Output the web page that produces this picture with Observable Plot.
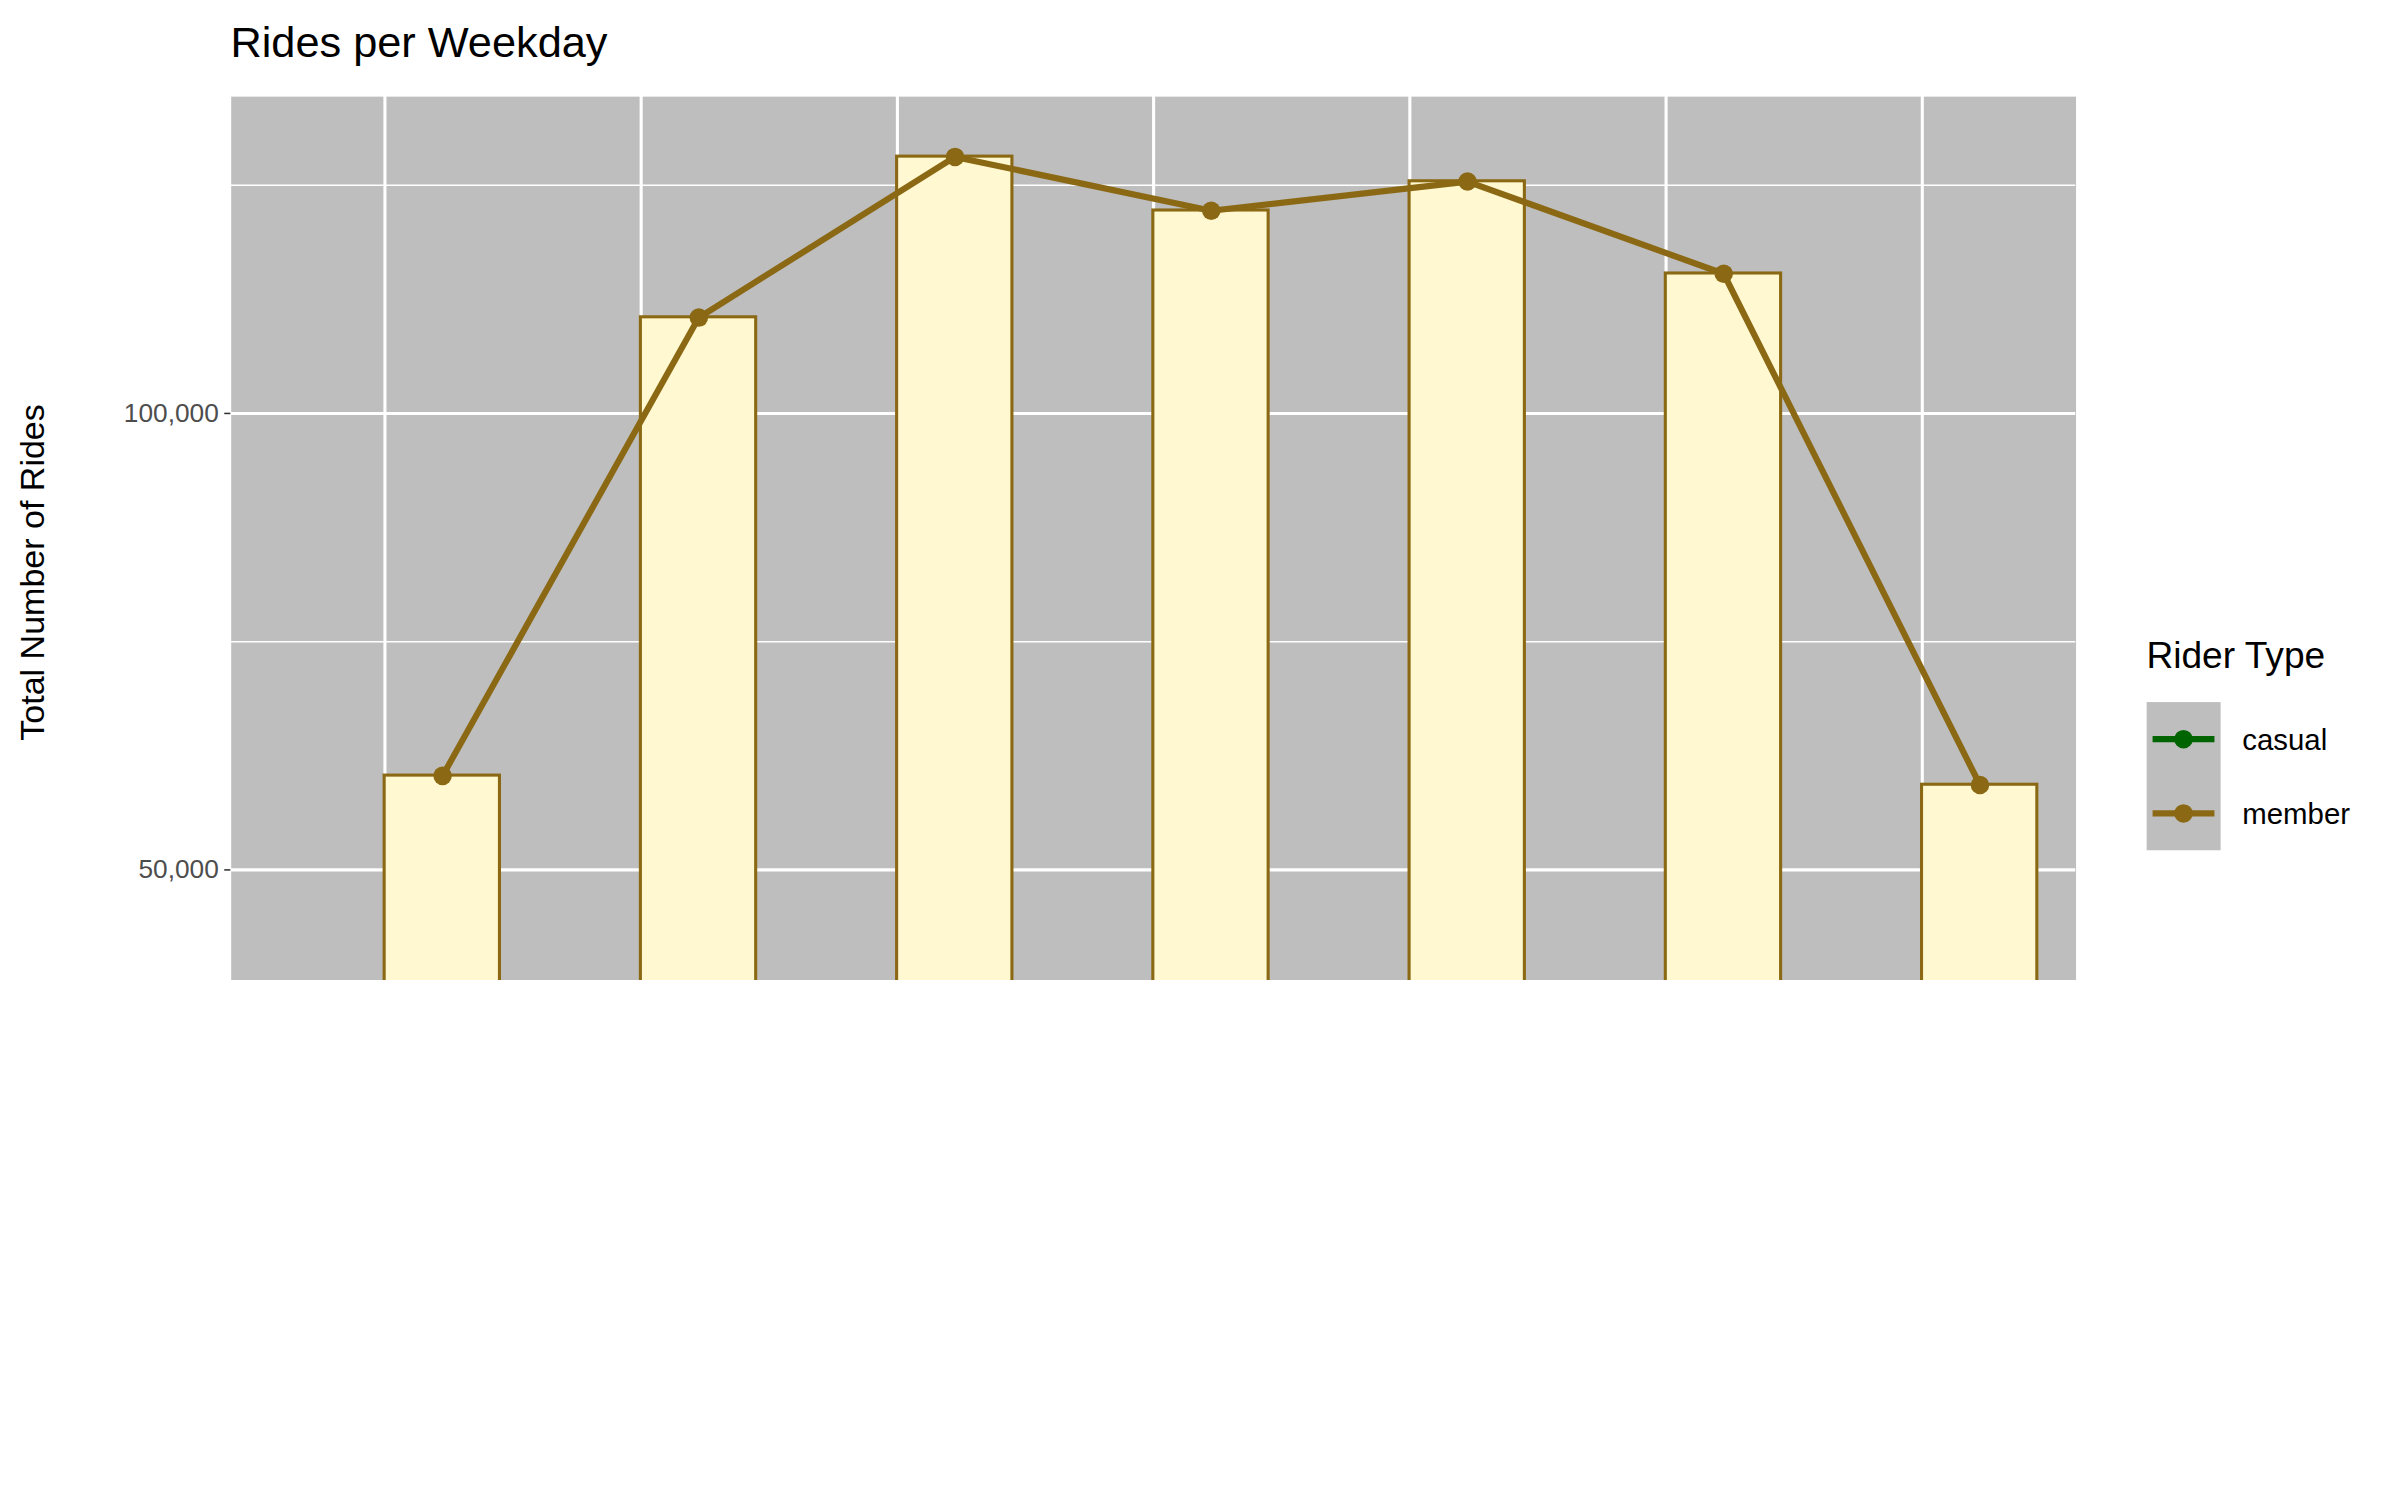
<!DOCTYPE html>
<html><head><meta charset="utf-8">
<script src="https://cdn.jsdelivr.net/npm/d3@7"></script>
<script src="https://cdn.jsdelivr.net/npm/@observablehq/plot@0.6"></script>
<style>
body{margin:0;background:#fff;font-family:"Liberation Sans",Arial,sans-serif;overflow:hidden;}
#wrap{position:relative;width:1552px;height:980px;transform:scale(1.5464);transform-origin:0 0;}
#title{position:absolute;left:149px;top:12px;font-size:28px;color:#000;}
#legend{position:absolute;left:1388px;top:410px;font-size:20px;}
</style></head><body>
<div id="wrap">
<div id="chart"></div>
<div id="title">Rides per Weekday</div>
<div id="legend"></div>
</div>
<script>
const days = ["Sun","Mon","Tue","Wed","Thu","Fri","Sat"];
const casual = [18600, 5400, 7100, 7600, 6900, 8000, 13400];
const member = [60300, 110500, 128100, 122200, 125400, 115300, 59300];

const cas = days.map((d,i)=>({i, v:casual[i]}));
const mem = days.map((d,i)=>({i, v:member[i]}));
const w = 0.45;

const chart = Plot.plot({
  width: 1552, height: 980,
  marginLeft: 149, marginRight: 210, marginTop: 62, marginBottom: 85,
  style: {fontFamily: "Liberation Sans, Arial, sans-serif", fontSize: "17px", background: "white"},
  x: {domain: [-0.6, 6.6], ticks: d3.range(7), tickFormat: i => days[i], label: null},
  y: {domain: [-6400, 134700], label: null},
  marks: [
    Plot.frame({fill: "#bebebe"}),
    Plot.gridY([25000, 75000, 125000], {stroke: "white", strokeOpacity: 1, strokeWidth: 1}),
    Plot.gridY([0, 50000, 100000], {stroke: "white", strokeOpacity: 1, strokeWidth: 2}),
    Plot.gridX(d3.range(7), {stroke: "white", strokeOpacity: 1, strokeWidth: 2}),
    Plot.rectY(cas, {x1: d => d.i - w, x2: d => d.i, y1: 0, y2: "v", fill: "#20b2aa", stroke: "#006400", strokeWidth: 2}),
    Plot.rectY(mem, {x1: d => d.i, x2: d => d.i + w, y1: 0, y2: "v", fill: "#fff8d0", stroke: "#8b6914", strokeWidth: 2}),
    Plot.line(cas, {x: d => d.i - w/2, y: "v", stroke: "#006400", strokeWidth: 4}),
    Plot.dot(cas, {x: d => d.i - w/2, y: "v", fill: "#006400", r: 6}),
    Plot.line(mem, {x: d => d.i + w/2, y: "v", stroke: "#8b6914", strokeWidth: 4}),
    Plot.dot(mem, {x: d => d.i + w/2, y: "v", fill: "#8b6914", r: 6}),
    Plot.axisY([0, 50000, 100000], {tickFormat: d3.format(","), tickSize: 4, tickPadding: 4, stroke: "#333", fill: "#4d4d4d", fontSize: 17, label: null}),
    Plot.axisX(d3.range(7), {tickFormat: i => days[i], tickSize: 4, tickPadding: 6, stroke: "#333", fill: "#4d4d4d", fontSize: 17, label: null}),
    Plot.text(["Day of the Week"], {frameAnchor: "bottom", dy: 75, fontSize: 22, fill: "black"}),
    Plot.text(["Total Number of Rides"], {frameAnchor: "left", dx: -128, rotate: -90, fontSize: 22, fill: "black"})
  ]
});
document.getElementById("chart").append(chart);

const types = [["casual","#006400"],["member","#8b6914"]];
const lg = d3.select("#legend");
lg.append("div").text("Rider Type").style("font-size","24px").style("margin-bottom","16px");
const box = lg.append("svg").attr("width",160).attr("height",96);
box.append("rect").attr("width",48).attr("height",96).attr("fill","#bebebe");
types.forEach(([n,c],k)=>{
  const y = 24 + k*48;
  box.append("line").attr("x1",4).attr("x2",44).attr("y1",y).attr("y2",y).attr("stroke",c).attr("stroke-width",4);
  box.append("circle").attr("cx",24).attr("cy",y).attr("r",6).attr("fill",c);
  box.append("text").attr("x",62).attr("y",y+7).attr("font-size",19).text(n);
});
</script>
</body></html>
